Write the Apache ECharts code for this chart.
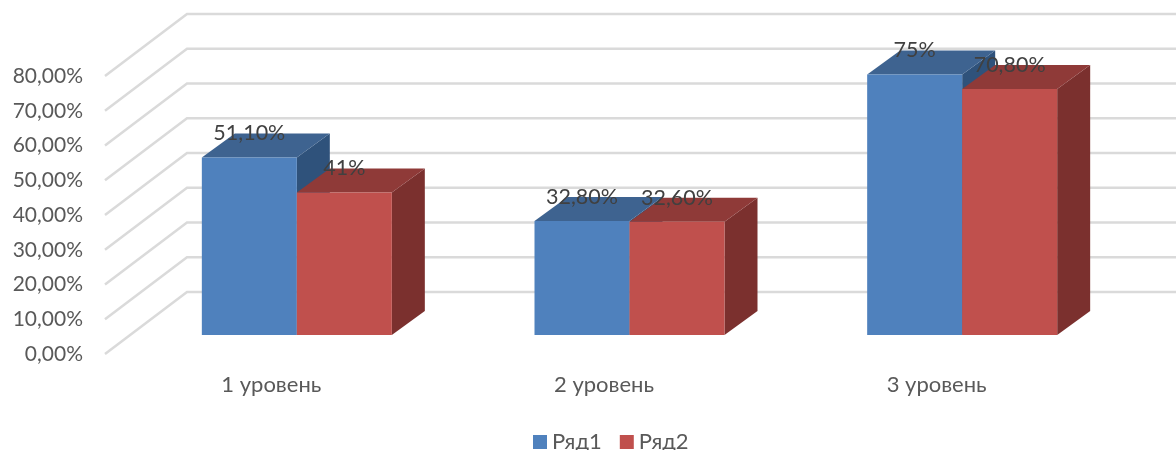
<!DOCTYPE html>
<html>
<head>
<meta charset="utf-8">
<title>Chart</title>
<script src="https://cdn.jsdelivr.net/npm/echarts@6/dist/echarts.min.js"></script>
<style>
	html, body { margin: 0; padding: 0; background: #fff; }
	#main { width: 1176px; height: 450px; }
</style>
</head>
<body>
<div id="main"></div>
<script>
var categories = ['1 уровень', '2 уровень', '3 уровень'];
var seriesNames = ['Ряд1', 'Ряд2'];
var values1 = [51.1, 32.8, 75];
var values2 = [41, 32.6, 70.8];
var labels1 = ['51,10%', '32,80%', '75%'];
var labels2 = ['41%', '32,60%', '70,80%'];
var wallTicks = [0, 10, 20, 30, 40, 50, 60, 70, 80];

var FONT = 'Lato';
var WALL_DX = 82, WALL_DY = 62;
var DEPTH_DX = 33, DEPTH_DY = 24;
var BAR_WIDTH = 95;

//slanted part on the side wall, then the line along the back wall
function renderWall(params, api) {
	var p = api.coord([0, api.value(0)]);
	var x = params.coordSys.x;
	return {
		type: 'polyline',
		silent: true,
		shape: { points: [[x, p[1]], [x + WALL_DX, p[1] - WALL_DY], [api.getWidth(), p[1] - WALL_DY]] },
		style: { stroke: '#dadada', lineWidth: 2.5, fill: null }
	};
}

//one box: front, top and side faces
function boxRenderer(side, front, top, right, labels) {
	return function (params, api) {
		var p = api.coord([api.value(0), api.value(1)]);
		var base = api.coord([api.value(0), 0]);
		var x0 = side < 0 ? p[0] - BAR_WIDTH : p[0];
		var x1 = x0 + BAR_WIDTH;
		var y = p[1], b = base[1];
		return {
			type: 'group',
			children: [
				{
					type: 'polygon',
					shape: { points: [[x1, y], [x1 + DEPTH_DX, y - DEPTH_DY], [x1 + DEPTH_DX, b - DEPTH_DY], [x1, b]] },
					style: { fill: right }
				},
				{
					type: 'polygon',
					shape: { points: [[x0, y], [x1, y], [x1 + DEPTH_DX, y - DEPTH_DY], [x0 + DEPTH_DX, y - DEPTH_DY]] },
					style: { fill: top }
				},
				{
					type: 'rect',
					shape: { x: x0, y: y, width: BAR_WIDTH, height: b - y },
					style: { fill: front }
				},
				{
					type: 'text',
					z2: 10,
					style: {
						x: (x0 + x1) / 2,
						y: y - DEPTH_DY,
						text: labels[params.dataIndex],
						font: '21.5px ' + FONT,
						fill: '#404040',
						align: 'center',
						verticalAlign: 'middle'
					}
				}
			]
		};
	};
}

function pairs(values) {
	var out = [];
	for (var i = 0; i < values.length; i++) {
		out.push([i, values[i]]);
	}
	return out;
}

var myChart = echarts.init(document.getElementById('main'));

myChart.setOption({
	animation: false,
	backgroundColor: '#fff',
	legend: {
		data: seriesNames,
		left: 533,
		top: 431,
		padding: 0,
		icon: 'rect',
		itemWidth: 14,
		itemHeight: 14,
		itemGap: 18,
		textStyle: { fontFamily: FONT, fontSize: 22, color: '#595959' }
	},
	grid: [
		//front plane: carries the axis labels
		{ left: 105, top: 76, width: 998, height: 278 },
		//plane of the bars, further in
		{ left: 130.5, top: 57, width: 998, height: 278 }
	],
	xAxis: [
		{
			type: 'category',
			gridIndex: 0,
			data: categories,
			axisLine: { show: false },
			axisTick: { show: false },
			axisLabel: { margin: 20, fontFamily: FONT, fontSize: 22, color: '#595959' }
		},
		{
			type: 'category',
			gridIndex: 1,
			data: categories,
			axisLine: { show: false },
			axisTick: { show: false },
			axisLabel: { show: false }
		}
	],
	yAxis: [
		{
			type: 'value',
			gridIndex: 0,
			min: 0,
			max: 80,
			interval: 10,
			splitLine: { show: false },
			axisLine: { show: false },
			axisTick: { show: false },
			axisLabel: {
				margin: 22,
				fontFamily: FONT,
				fontSize: 21,
				color: '#595959',
				formatter: function (value) {
					return value.toFixed(2).replace('.', ',') + '%';
				}
			}
		},
		{
			type: 'value',
			gridIndex: 1,
			min: 0,
			max: 80,
			interval: 10,
			splitLine: { show: false },
			axisLine: { show: false },
			axisTick: { show: false },
			axisLabel: { show: false }
		}
	],
	series: [
		{
			type: 'custom',
			name: 'wall',
			xAxisIndex: 0,
			yAxisIndex: 0,
			coordinateSystem: 'cartesian2d',
			clip: false,
			silent: true,
			z: 1,
			data: wallTicks,
			encode: { y: 0 },
			renderItem: renderWall
		},
		{
			type: 'custom',
			name: seriesNames[0],
			xAxisIndex: 1,
			yAxisIndex: 1,
			clip: false,
			z: 2,
			itemStyle: { color: '#4f81bd' },
			data: pairs(values1),
			encode: { x: 0, y: 1 },
			renderItem: boxRenderer(-1, '#4f81bd', '#3e6390', '#2f527b', labels1)
		},
		{
			type: 'custom',
			name: seriesNames[1],
			xAxisIndex: 1,
			yAxisIndex: 1,
			clip: false,
			z: 3,
			itemStyle: { color: '#c0504d' },
			data: pairs(values2),
			encode: { x: 0, y: 1 },
			renderItem: boxRenderer(1, '#c0504d', '#8f3a38', '#7b302e', labels2)
		}
	]
});
</script>
</body>
</html>
